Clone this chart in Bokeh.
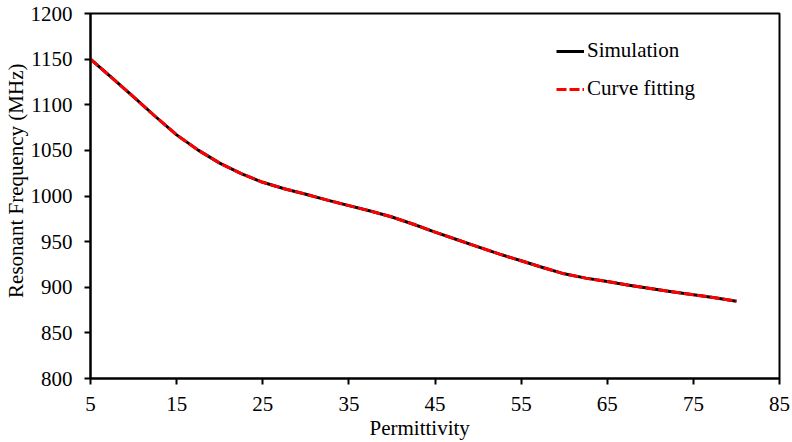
from bokeh.plotting import figure
from bokeh.models import Range1d, FixedTicker, Legend, LegendItem, Title
from bokeh.embed import file_html
from bokeh.resources import INLINE

# Resonant frequency versus substrate permittivity
permittivity = [5, 7.5, 10, 12.5, 15, 17.5, 20, 22.5, 25, 27.5, 30, 32.5, 35,
                37.5, 40, 42.5, 45, 47.5, 50, 52.5, 55, 57.5, 60, 62.5, 65,
                67.5, 70, 72.5, 75, 77.5, 80]
simulation_mhz = [1150, 1129.4, 1108.5, 1087.4, 1067, 1050.3, 1036, 1024.5,
                  1015, 1008, 1002, 995.5, 989.5, 983.5, 977, 969, 960.5,
                  952.3, 944.3, 936.3, 929, 921.7, 914.7, 910, 906.4, 902.3,
                  898.7, 895, 891.8, 888.5, 884.7]
fitting_mhz = [1150, 1129.4, 1108.5, 1087.4, 1067, 1050.3, 1036, 1024.5,
               1015, 1008, 1002, 995.5, 989.5, 983.5, 977, 969, 960.5,
               952.3, 944.3, 936.3, 929, 921.7, 914.7, 910, 906.4, 902.3,
               898.7, 895, 891.8, 888.5, 884.7]

x_ticks = [5, 15, 25, 35, 45, 55, 65, 75, 85]
y_ticks = [800, 850, 900, 950, 1000, 1050, 1100, 1150, 1200]
x_title = "Permittivity"
y_title = "Resonant Frequency (MHz)"

FONT = "Liberation Serif"
FS = "21px"

p = figure(width=792, height=442, output_backend="svg", toolbar_location=None,
           x_range=Range1d(5, 85), y_range=Range1d(800, 1200),
           min_border_left=90, min_border_right=13, min_border_top=13,
           min_border_bottom=64)

p.background_fill_color = "white"
p.border_fill_color = "white"
p.outline_line_color = "black"
p.outline_line_width = 2
p.xgrid.visible = False
p.ygrid.visible = False

for ax in (p.xaxis[0], p.yaxis[0]):
    ax.axis_line_color = "black"
    ax.axis_line_width = 2
    ax.major_tick_line_color = "black"
    ax.major_tick_line_width = 2
    ax.major_tick_out = 6
    ax.major_tick_in = 0
    ax.minor_tick_line_color = None
    ax.major_label_text_font = FONT
    ax.major_label_text_font_size = FS
    ax.major_label_text_color = "black"

p.xaxis.ticker = FixedTicker(ticks=x_ticks)
p.yaxis.ticker = FixedTicker(ticks=y_ticks)
p.xaxis.major_label_standoff = 12
p.yaxis.major_label_standoff = 12

# Axis titles sit a little off-centre, so they go in the side panels as titles
p.add_layout(Title(text=x_title, align="left", offset=279, standoff=0,
                   text_font=FONT, text_font_size=FS, text_color="black",
                   text_font_style="normal"), "below")
p.add_layout(Title(text=y_title, align="right", offset=50, standoff=0,
                   text_font=FONT, text_font_size=FS, text_color="black",
                   text_font_style="normal"), "left")

sim = p.line(permittivity, simulation_mhz, line_color="black", line_width=3,
             line_join="round")
fit = p.line(permittivity, fitting_mhz, line_color="red", line_width=3,
             line_dash="10 3", line_join="round")

legend = Legend(items=[LegendItem(label="Simulation", renderers=[sim]),
                       LegendItem(label="Curve fitting", renderers=[fit])],
                location=(466, 277), orientation="vertical")
legend.border_line_alpha = 0
legend.background_fill_alpha = 0
legend.padding = 0
legend.margin = 0
legend.spacing = 13
legend.glyph_width = 28
legend.glyph_height = 20
legend.label_height = 20
legend.label_standoff = 3
legend.label_text_font = FONT
legend.label_text_font_size = FS
legend.label_text_color = "black"
p.add_layout(legend)

open("out.html", "w").write(file_html(p, INLINE))
